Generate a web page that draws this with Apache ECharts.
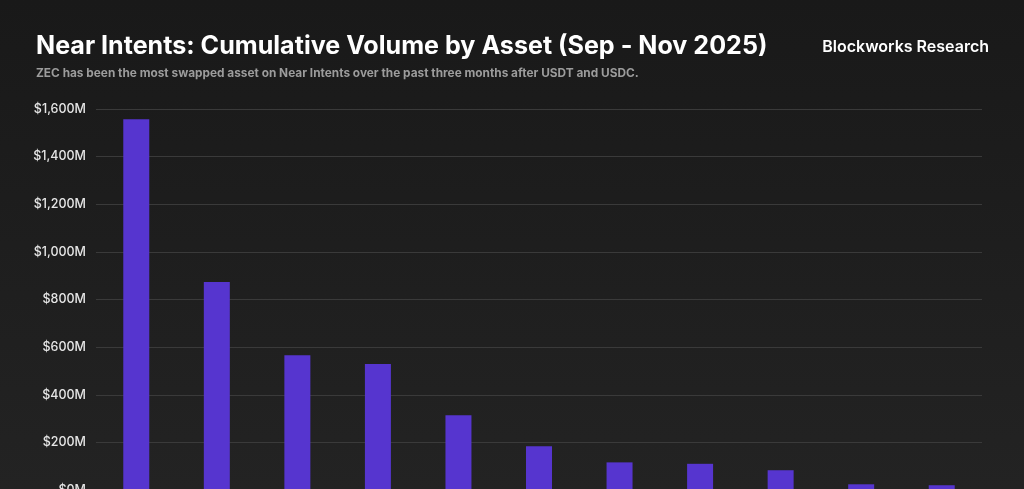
<!DOCTYPE html>
<html>
<head>
<meta charset="utf-8">
<script src="https://cdn.jsdelivr.net/npm/echarts@6/dist/echarts.min.js"></script>
<style>
html,body{margin:0;padding:0;overflow:hidden;}
body{width:1024px;height:489px;background:linear-gradient(180deg,#191919 0%,#1f1f1f 60%,#232323 100%);}
#chart{width:1024px;height:540px;}
</style>
</head>
<body>
<div id="chart"></div>
<script>
const categories = ["USDT","USDC","ZEC","BTC","ETH","SOL","NEAR","XRP","DOGE","TRX","BNB"];
const volumes = [1557, 873, 566, 529, 314, 184, 116, 110, 83, 24, 20];
const yTicks = { min: 0, max: 1600, interval: 200 };

const chart = echarts.init(document.getElementById('chart'), null, {renderer:'canvas'});
chart.setOption({
  backgroundColor: 'transparent',
  animation: false,
  title: [
    {
      text: 'Near Intents: Cumulative Volume by Asset (Sep - Nov 2025)',
      left: 36, top: 34, padding: 0,
      textStyle: {color:'#ffffff', fontSize:25.1, fontWeight:'bold', fontFamily:'Inter'}
    },
    {
      text: 'ZEC has been the most swapped asset on Near Intents over the past three months after USDT and USDC.',
      left: 36, top: 67, padding: 0,
      textStyle: {color:'#9c9c9c', fontSize:11.85, fontWeight:'bold', fontFamily:'Inter'}
    },
    {
      text: 'Blockworks Research',
      right: 35, top: 39, padding: 0,
      textStyle: {color:'#ffffff', fontSize:16, fontWeight:600, fontFamily:'Inter'}
    }
  ],
  grid: { left: 96, right: 42, top: 109, bottom: 50, containLabel: false },
  xAxis: {
    type: 'category',
    data: categories,
    axisLine: {show:false},
    axisTick: {show:false},
    axisLabel: {color:'#e0e0e0', fontSize:13, fontFamily:'Inter'}
  },
  yAxis: {
    type: 'value',
    min: yTicks.min, max: yTicks.max, interval: yTicks.interval,
    axisLine: {show:false},
    axisTick: {show:false},
    axisLabel: {
      color:'#e6e6e6', fontSize:12.5, fontFamily:'Inter', fontWeight:500, margin:10,
      formatter: v => '$' + v.toLocaleString('en-US') + 'M'
    },
    splitLine: {lineStyle: {color:'#3a3a3a', width:1}}
  },
  series: [{
    type: 'bar',
    data: volumes,
    barWidth: 26,
    itemStyle: {color:'#5635cf'}
  }]
});
</script>
</body>
</html>
